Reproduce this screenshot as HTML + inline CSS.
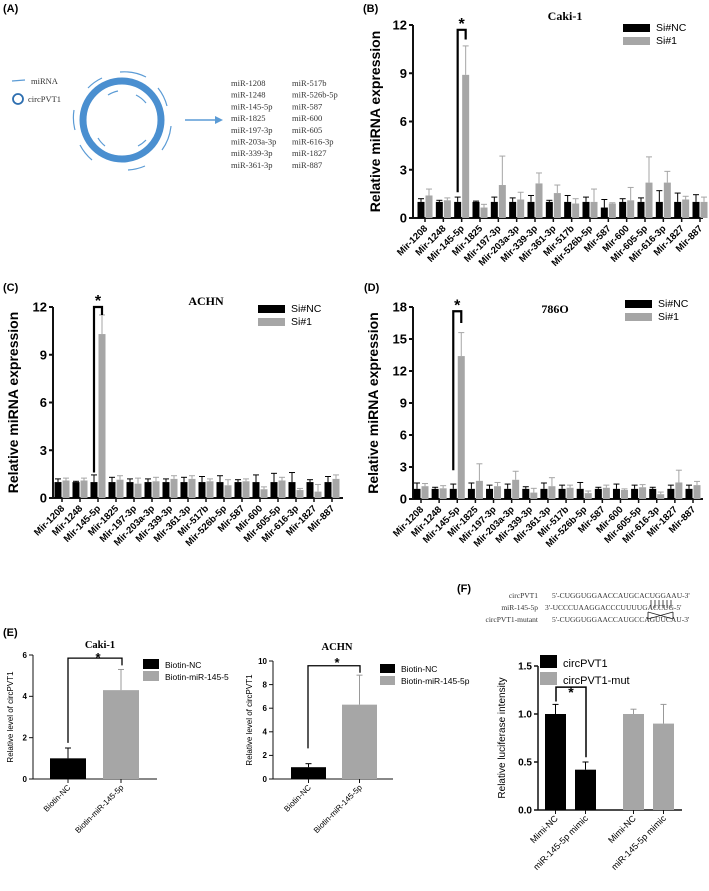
<!DOCTYPE html>
<html><head><meta charset="utf-8">
<style>
html,body{margin:0;padding:0;background:#fff;}
svg{display:block;font-family:"Liberation Sans",Arial,sans-serif;}
.serif{font-family:"Liberation Serif",serif;}
</style></head>
<body>
<svg id="fig" width="709" height="891" viewBox="0 0 709 891" xmlns="http://www.w3.org/2000/svg">
  <!-- Panel A -->
  <g>
    <text x="3" y="12" font-size="11" font-weight="bold">(A)</text>
    <line x1="12" y1="81" x2="25" y2="80" stroke="#5b9bd5" stroke-width="1.3"/>
    <text x="31" y="84" font-size="8.5" class="serif" fill="#333">miRNA</text>
    <circle cx="18" cy="99" r="5" fill="none" stroke="#2e6fb0" stroke-width="1.8"/>
    <text x="28" y="102" font-size="8.5" class="serif" fill="#333">circPVT1</text>
    <circle cx="122" cy="120" r="39" fill="none" stroke="#4a8fd0" stroke-width="7"/>
    <g fill="none" stroke="#5b9bd5" stroke-width="1.2">
      <path d="M88 88 A47 47 0 0 1 102 78"/>
      <path d="M120 72 A48 48 0 0 1 146 77"/>
      <path d="M158 88 A48 48 0 0 1 167 106"/>
      <path d="M171 126 A49 49 0 0 1 162 150"/>
      <path d="M145 166 A50 50 0 0 1 128 170"/>
      <path d="M92 160 A50 50 0 0 1 80 145"/>
      <path d="M75 130 A48 48 0 0 1 74 110"/>
      <path d="M108 95 A30 30 0 0 1 118 91"/>
      <path d="M136 95 A30 30 0 0 1 146 103"/>
      <path d="M146 140 A30 30 0 0 1 138 146"/>
      <path d="M105 146 A30 30 0 0 1 98 138"/>
    </g>
    <line x1="185" y1="120" x2="216" y2="120" stroke="#5b9bd5" stroke-width="1.5"/>
    <polygon points="223,120 215,116 215,124" fill="#5b9bd5"/>
    <g class="serif" font-size="8.5" fill="#333">
      <text x="231" y="86">miR-1208</text><text x="292" y="86">miR-517b</text>
      <text x="231" y="97.7">miR-1248</text><text x="292" y="97.7">miR-526b-5p</text>
      <text x="231" y="109.4">miR-145-5p</text><text x="292" y="109.4">miR-587</text>
      <text x="231" y="121.1">miR-1825</text><text x="292" y="121.1">miR-600</text>
      <text x="231" y="132.8">miR-197-3p</text><text x="292" y="132.8">miR-605</text>
      <text x="231" y="144.5">miR-203a-3p</text><text x="292" y="144.5">miR-616-3p</text>
      <text x="231" y="156.2">miR-339-3p</text><text x="292" y="156.2">miR-1827</text>
      <text x="231" y="167.9">miR-361-3p</text><text x="292" y="167.9">miR-887</text>
    </g>
  </g>
  <text x="363" y="12" font-size="11" font-weight="bold">(B)</text>
  <text x="3" y="291" font-size="11" font-weight="bold">(C)</text>
  <text x="364" y="291" font-size="11" font-weight="bold">(D)</text>
  <text x="3" y="636" font-size="11" font-weight="bold">(E)</text>
  <text x="457" y="592" font-size="11" font-weight="bold">(F)</text>
  <!-- F sequences -->
  <g class="serif" font-size="7.5" fill="#333">
    <text x="538" y="598" text-anchor="end">circPVT1</text>
    <text x="552" y="598">5'-CUGGUGGAACCAUGCACUGGAAU-3'</text>
    <text x="538" y="610" text-anchor="end">miR-145-5p</text>
    <text x="545" y="610">3'-UCCCUAAGGACCCUUUUGACCUG-5'</text>
    <text x="538" y="622" text-anchor="end">circPVT1-mutant</text>
    <text x="552" y="622">5'-CUGGUGGAACCAUGCCAGUUCAU-3'</text>
  </g>
  <g stroke="#222" stroke-width="0.8">
    <line x1="651" y1="600" x2="651" y2="608"/><line x1="655" y1="600" x2="655" y2="608"/>
    <line x1="659" y1="600" x2="659" y2="608"/><line x1="663" y1="600" x2="663" y2="608"/>
    <line x1="667" y1="600" x2="667" y2="608"/><line x1="671" y1="600" x2="671" y2="608"/>
    <path d="M648 612 L673 619 M648 619 L673 612 M648 612 V619 M673 612 V619" fill="none"/>
  </g>
  <g id="charts"></g>
</svg>
<script>
// ---------- Data ----------
const mirCats = ["Mir-1208","Mir-1248","Mir-145-5p","Mir-1825","Mir-197-3p","Mir-203a-3p","Mir-339-3p","Mir-361-3p","Mir-517b","Mir-526b-5p","Mir-587","Mir-600","Mir-605-5p","Mir-616-3p","Mir-1827","Mir-887"];
const bTicks = [0,3,6,9,12];
const bNC = [1,1,1,1,1,1,1,1,1,1,0.65,1,1,1,1,1];
const bNCErr = [1.2,1.1,1.3,1.05,1.3,1.25,1.4,1.1,1.4,1.3,1.15,1.2,1.25,1.7,1.55,1.45];
const bSi = [1.4,1.1,8.9,0.65,2.05,1.15,2.15,1.55,0.9,1.0,0.9,1.1,2.2,2.2,1.15,1.0];
const bSiErr = [1.8,1.25,10.7,0.85,3.85,1.6,2.8,2.05,1.2,1.8,0.95,1.9,3.8,2.9,1.35,1.3];
const cTicks = [0,3,6,9,12];
const cNC = [1,1,1,1,1,1,1,1,1,1,1,1,1,1,1,1];
const cNCErr = [1.2,1.05,1.45,1.3,1.2,1.2,1.2,1.3,1.35,1.4,1.15,1.45,1.55,1.6,1.15,1.35];
const cSi = [1.1,1.1,10.3,1.15,0.9,1.05,1.2,1.2,1.05,0.8,1.05,0.55,1.1,0.5,0.4,1.2];
const cSiErr = [1.25,1.25,11.5,1.4,1.25,1.3,1.4,1.4,1.2,1.15,1.2,0.7,1.3,0.6,0.85,1.45];
const dTicks = [0,3,6,9,12,15,18];
const dNC = [0.95,0.95,0.95,0.95,0.95,0.95,0.95,0.95,0.95,0.95,0.95,0.95,0.95,0.95,0.95,0.95];
const dNCErr = [1.5,1.1,1.4,1.5,1.3,1.4,1.15,1.5,1.3,1.55,1.1,1.4,1.3,1.1,1.3,1.3];
const dSi = [1.2,1.0,13.4,1.7,1.2,1.8,0.6,1.2,1.05,0.55,1.05,0.85,1.1,0.45,1.55,1.3];
const dSiErr = [1.45,1.25,15.6,3.3,1.55,2.6,1.0,2.0,1.3,0.75,1.3,0.95,1.35,0.65,2.7,1.65];
const eCats = ["Biotin-NC","Biotin-miR-145-5p"];
const eCakiVals = [1,4.3];
const eCakiErr = [1.5,5.3];
const eCakiTicks = [0,2,4,6];
const eAchnVals = [1,6.3];
const eAchnErr = [1.3,8.8];
const eAchnTicks = [0,2,4,6,8,10];
const fCats = ["Mimi-NC","miR-145-5p mimic","Mimi-NC","miR-145-5p mimic"];
const fVals = [1.0,0.42,1.0,0.9];
const fErr = [1.1,0.5,1.05,1.1];
const fTicks = [0,0.5,1.0,1.5];

const NS="http://www.w3.org/2000/svg";
const root=document.getElementById('charts');
function mk(tag,attrs,parent,text){const e=document.createElementNS(NS,tag);for(const k in attrs)e.setAttribute(k,attrs[k]);if(text!==undefined)e.textContent=text;(parent||root).appendChild(e);return e;}
function scale(d0,d1,r0,r1){return v=>r0+(v-d0)/(d1-d0)*(r1-r0);}

function axes(g,cfg,y){
  const {x0,x1,y0,y1,ticks,fs,lw}=cfg;
  const ax=mk('line',{x1:x0,y1:y0,x2:x0,y2:y1,stroke:'#111','stroke-width':lw},g);
  
  
  const bx=mk('line',{x1:x0,y1:y0,x2:x1,y2:y0,stroke:'#111','stroke-width':lw},g);
  
  
  ticks.forEach(t=>{
    mk('line',{x1:x0-4,y1:y(t),x2:x0,y2:y(t),stroke:'#111','stroke-width':lw},g);
    const tl=mk('text',{x:x0-6,y:y(t)+fs*0.35,'font-size':fs,'font-weight':'bold','text-anchor':'end'},g,String(cfg.fmt?cfg.fmt(t):t));
    
    
  });
  const yl=mk('text',{x:0,y:0,'font-size':cfg.yfs,'font-weight':cfg.ybold?'bold':'normal','text-anchor':'middle',transform:`translate(${cfg.ylx},${(y0+y1)/2}) rotate(-90)`},g,cfg.ylabel);
  
  
}
function errbar(g,cx,top,base,y,lw,color){
  mk('line',{x1:cx,y1:y(base),x2:cx,y2:y(top),stroke:color,'stroke-width':lw},g);
  mk('line',{x1:cx-3,y1:y(top),x2:cx+3,y2:y(top),stroke:color,'stroke-width':lw},g);
}
function legend(g,x,yy,gap,w,h,fs,labels){
  const cols=['#000','#a6a6a6'];
  labels.forEach((l,i)=>{
    const r=mk('rect',{x:x,y:yy+i*gap,width:w,height:h,fill:cols[i]},g);
    
    
    const t=mk('text',{x:x+w+6,y:yy+i*gap+h-1,'font-size':fs},g,l);
    
    
  });
}

function mirChart(name,cfg,nc,ncE,si,siE){
  const g=mk('g',{});
  
  
  const y=scale(0,cfg.ymax,cfg.y0,cfg.y1);
  const n=mirCats.length, step=(cfg.tl-cfg.tf)/(n-1);
  axes(g,cfg,y);
  mirCats.forEach((c,i)=>{
    const cx=cfg.tf+i*step;
    mk('line',{x1:cx,y1:cfg.y0,x2:cx,y2:cfg.y0+4,stroke:'#111','stroke-width':1.5},g);
    const b1=mk('rect',{x:cx-7.5,y:y(nc[i]),width:7,height:cfg.y0-y(nc[i]),fill:'#000'},g);
    
    
    errbar(g,cx-4,ncE[i],nc[i],y,1,'#000');
    const b2=mk('rect',{x:cx+0.5,y:y(si[i]),width:7,height:cfg.y0-y(si[i]),fill:'#a6a6a6'},g);
    
    
    errbar(g,cx+4,siE[i],si[i],y,1,'#a6a6a6');
    const t=mk('text',{x:0,y:0,'font-size':9.5,'font-weight':'bold','text-anchor':'end',transform:`translate(${cx+3},${cfg.y0+11}) rotate(-45)`},g,c);
    
    
  });
  const cx=cfg.tf+2*step;
  const top=y(cfg.brTop);
  mk('path',{d:`M${cx-4} ${y(cfg.brLow)} V${top} H${cx+4} V${y(cfg.brRight)}`,fill:'none',stroke:'#000','stroke-width':2.2},g);
  const st=mk('text',{x:cx,y:top-1,'font-size':16,'font-weight':'bold','text-anchor':'middle'},g,'*');
  
  
  const ti=mk('text',{x:cfg.titleX,y:cfg.titleY,'font-size':12,'font-weight':'bold','text-anchor':'middle','class':'serif'},g,cfg.title);
  
  
  legend(g,cfg.lx,cfg.ly,13,27,8,10.5,['Si#NC','Si#1']);
}

mirChart('chart-b-caki1',{x0:413,x1:703,y0:218,y1:25,ymax:12,ticks:bTicks,tf:425,tl:700,fs:13,lw:2,yfs:14,ybold:true,ylx:380,ylabel:'Relative miRNA expression',brTop:11.7,brLow:1.6,brRight:11.1,title:'Caki-1',titleX:565,titleY:20,lx:623,ly:24},bNC,bNCErr,bSi,bSiErr);
mirChart('chart-c-achn',{x0:53,x1:343,y0:498,y1:307,ymax:12,ticks:cTicks,tf:62,tl:332,fs:13,lw:2,yfs:14,ybold:true,ylx:18,ylabel:'Relative miRNA expression',brTop:12,brLow:1.6,brRight:11.5,title:'ACHN',titleX:206,titleY:305,lx:258,ly:305},cNC,cNCErr,cSi,cSiErr);
mirChart('chart-d-786o',{x0:413,x1:703,y0:499,y1:307,ymax:18,ticks:dTicks,tf:421,tl:693,fs:13,lw:2,yfs:14,ybold:true,ylx:378,ylabel:'Relative miRNA expression',brTop:17.6,brLow:2.7,brRight:16.5,title:'786O',titleX:555,titleY:313,lx:625,ly:300},dNC,dNCErr,dSi,dSiErr);

function simpleChart(name,cfg,cats,vals,errs,colors,bx,bw,ticks){
  const g=mk('g',{});
  
  
  const y=scale(0,cfg.ymax,cfg.y0,cfg.y1);
  axes(g,Object.assign({ticks:ticks},cfg),y);
  cats.forEach((c,i)=>{
    const cx=bx[i]+bw/2;
    const r=mk('rect',{x:bx[i],y:y(vals[i]),width:bw,height:cfg.y0-y(vals[i]),fill:colors[i]},g);
    
    
    errbar(g,cx,errs[i],vals[i],y,1,colors[i]=='#000'?'#000':'#999');
    mk('line',{x1:cx,y1:cfg.y0,x2:cx,y2:cfg.y0+4,stroke:'#111','stroke-width':1},g);
    const t=mk('text',{x:0,y:0,'font-size':cfg.xfs,'text-anchor':'end',transform:`translate(${cx+3},${cfg.y0+9}) rotate(-45)`},g,c);
    
    
  });
  return {g,y};
}

let e1=simpleChart('chart-e-caki1',{x0:33,x1:157,y0:779,y1:655,ymax:6,fs:8,lw:1,yfs:8,ybold:false,ylx:13,ylabel:'Relative level of circPVT1',xfs:8},eCats,eCakiVals,eCakiErr,['#000','#a6a6a6'],[50,103],36,eCakiTicks);
mk('path',{d:`M68 ${e1.y(1.75)} V${e1.y(5.85)} H122 V${e1.y(5.5)}`,fill:'none',stroke:'#000','stroke-width':1.3},e1.g);
mk('text',{x:98,y:662,'font-size':13,'font-weight':'bold','text-anchor':'middle'},e1.g,'*');
mk('text',{x:100,y:648,'font-size':10.5,'font-weight':'bold','text-anchor':'middle','class':'serif'},e1.g,'Caki-1');
legend(e1.g,143,659,12,16,10,8.5,['Biotin-NC','Biotin-miR-145-5']);
let e2=simpleChart('chart-e-achn',{x0:273,x1:393,y0:779,y1:661,ymax:10,fs:8,lw:1,yfs:8,ybold:false,ylx:252,ylabel:'Relative level of circPVT1',xfs:8},eCats,eAchnVals,eAchnErr,['#000','#a6a6a6'],[291,342],35,eAchnTicks);
mk('path',{d:`M308 ${e2.y(2.6)} V${e2.y(9.6)} H360 V${e2.y(9.0)}`,fill:'none',stroke:'#000','stroke-width':1.3},e2.g);
mk('text',{x:337,y:667,'font-size':13,'font-weight':'bold','text-anchor':'middle'},e2.g,'*');
mk('text',{x:337,y:650,'font-size':10.5,'font-weight':'bold','text-anchor':'middle','class':'serif'},e2.g,'ACHN');
legend(e2.g,380,664,12,15,9,8.5,['Biotin-NC','Biotin-miR-145-5p']);
let f=simpleChart('chart-f-luciferase',{x0:538,x1:682,y0:810,y1:666,ymax:1.5,fs:10,lw:1.5,yfs:10,ybold:false,ylx:505,ylabel:'Relative luciferase intensity',xfs:9,fmt:t=>t.toFixed(1)},fCats,fVals,fErr,['#000','#000','#a6a6a6','#a6a6a6'],[545,575,623,653],21,fTicks);
mk('path',{d:`M556 ${f.y(1.13)} V${f.y(1.28)} H586 V${f.y(0.55)}`,fill:'none',stroke:'#000','stroke-width':1.5},f.g);
mk('text',{x:571,y:697,'font-size':14,'font-weight':'bold','text-anchor':'middle'},f.g,'*');
legend(f.g,540,655,17,17,13,11,['circPVT1','circPVT1-mut']);
</script>
</body></html>
